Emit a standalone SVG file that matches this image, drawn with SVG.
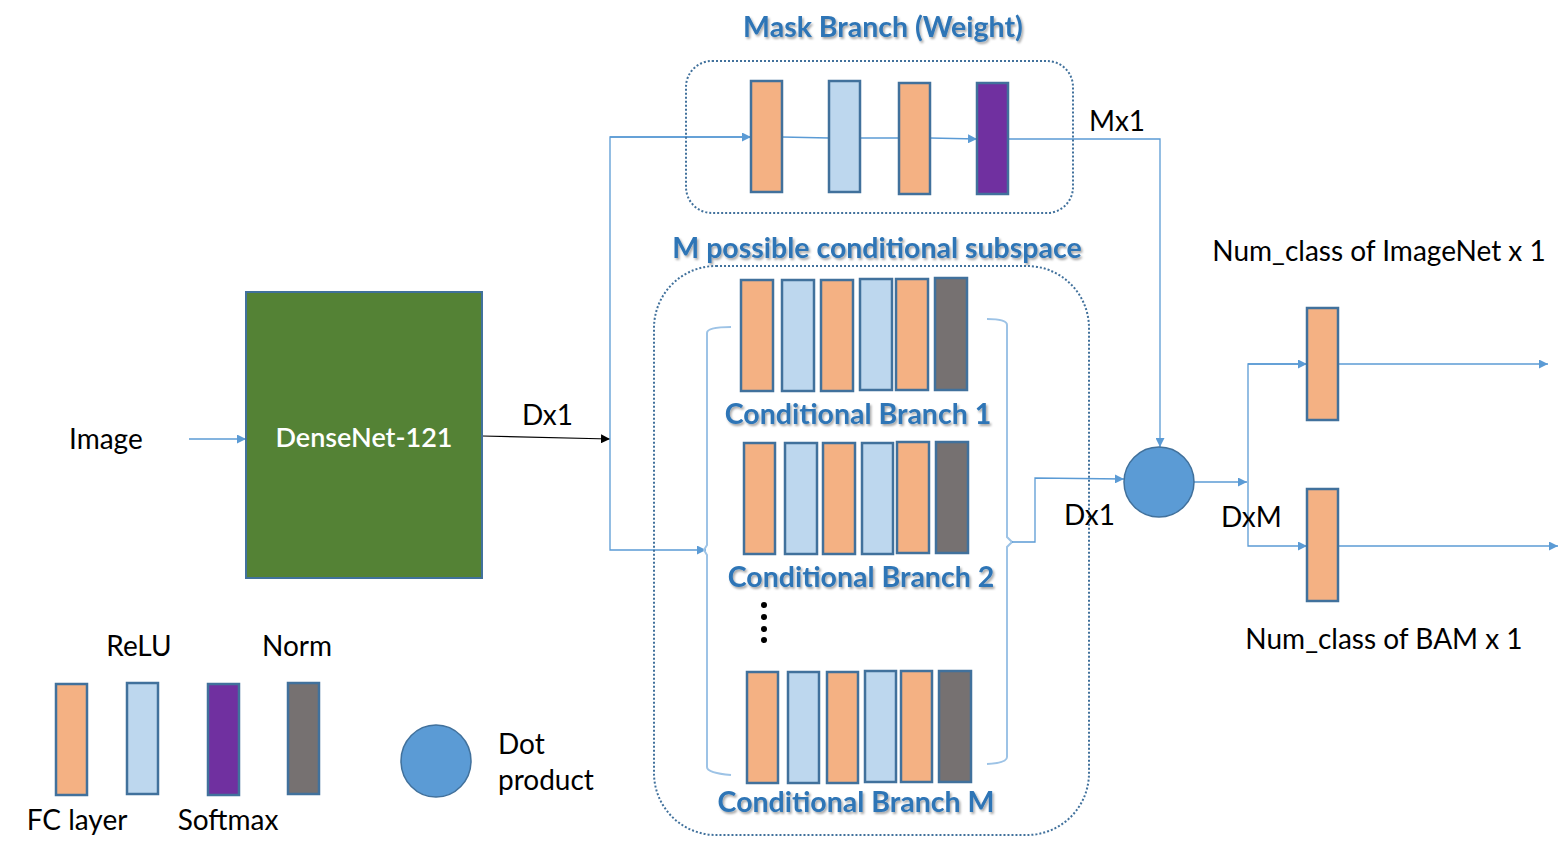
<svg xmlns="http://www.w3.org/2000/svg" width="1558" height="857" viewBox="0 0 1558 857">
<defs>
<style>
.fc{fill:#F4B183;stroke:#41719C;stroke-width:2.5}
.relu{fill:#BDD7EE;stroke:#41719C;stroke-width:2.5}
.soft{fill:#7030A0;stroke:#41719C;stroke-width:2.5}
.norm{fill:#767171;stroke:#41719C;stroke-width:2.5}
.dot{fill:#5B9BD5;stroke:#41719C;stroke-width:1.5}
.grp{fill:none;stroke:#41719C;stroke-width:2;stroke-dasharray:2 2}
.ln{fill:none;stroke:#5B9BD5;stroke-width:1.3}
.br{fill:none;stroke:#9DC3E6;stroke-width:2}
.t{font-family:Lato,"Liberation Sans",sans-serif;font-size:28px;fill:#000}
.h{font-family:Lato,"Liberation Sans",sans-serif;font-size:28.5px;font-weight:bold;fill:#2E75B6;text-anchor:middle;filter:url(#sh)}
</style>
<filter id="sh" x="-5%" y="-20%" width="110%" height="150%">
<feDropShadow dx="1.5" dy="2" stdDeviation="1" flood-color="#000" flood-opacity="0.35"/>
</filter>
<marker id="ab" viewBox="0 0 10 10" refX="10" refY="5" markerWidth="9" markerHeight="9" markerUnits="userSpaceOnUse" orient="auto"><path d="M0,0 L10,5 L0,10 z" fill="#5B9BD5"/></marker>
<marker id="ak" viewBox="0 0 10 10" refX="10" refY="5" markerWidth="9" markerHeight="9" markerUnits="userSpaceOnUse" orient="auto"><path d="M0,0 L10,5 L0,10 z" fill="#000"/></marker>
</defs>
<rect width="1558" height="857" fill="#fff"/>

<g id="connectors">
<line class="ln" x1="189" y1="439" x2="246" y2="439" marker-end="url(#ab)"/>
<path d="M482,436 L610,439" fill="none" stroke="#000" stroke-width="1.2" marker-end="url(#ak)"/>
<path class="ln" d="M751,137 L610,137 L610,550 L706,550" marker-end="url(#ab)"/>
<line class="ln" x1="610" y1="137" x2="751" y2="137" marker-end="url(#ab)"/>
<line class="ln" x1="782" y1="137" x2="829" y2="138"/>
<line class="ln" x1="860" y1="138" x2="899" y2="138"/>
<line class="ln" x1="930" y1="138" x2="977" y2="139" marker-end="url(#ab)"/>
<path class="ln" d="M1008,139 L1160,139 L1160,447" marker-end="url(#ab)"/>
<path class="br" d="M731,327 Q707,327 707,333 L707,545 L704,550 L707,555 L707,767 Q707,773 731,775"/>
<path class="br" d="M987,319 Q1007,319 1007,325 L1007,537 L1012,542 L1007,547 L1007,757 Q1007,763 987,764"/>
<path class="ln" d="M1012,542 L1035,542 L1035,478 L1124,479" marker-end="url(#ab)"/>
<line class="ln" x1="1194" y1="482" x2="1247" y2="482" marker-end="url(#ab)"/>
<path class="ln" d="M1307,364 L1248,364 L1248,546 L1307,546" marker-end="url(#ab)"/>
<line class="ln" x1="1248" y1="364" x2="1307" y2="364" marker-end="url(#ab)"/>
<line class="ln" x1="1338" y1="364" x2="1548" y2="364" marker-end="url(#ab)"/>
<line class="ln" x1="1338" y1="546" x2="1558" y2="546" marker-end="url(#ab)"/>
</g>

<g id="image-label"><text class="t" x="69" y="449">Image</text></g>

<g id="densenet">
<rect x="246" y="292" width="236" height="286" fill="#548235" stroke="#41719C" stroke-width="2"/>
<text x="364" y="447" font-family="Lato,'Liberation Sans',sans-serif" font-size="27" font-weight="600" fill="#fff" text-anchor="middle">DenseNet-121</text>
</g>
<g id="dx1-label"><text class="t" x="522" y="425">Dx1</text></g>

<g id="mask-branch">
<text class="h" x="883" y="37">Mask Branch (Weight)</text>
<rect class="grp" x="686" y="61" width="387" height="152" rx="26"/>
<rect class="fc" x="751" y="81" width="31" height="111"/>
<rect class="relu" x="829" y="81" width="31" height="111"/>
<rect class="fc" x="899" y="83" width="31" height="111"/>
<rect class="soft" x="977" y="83" width="31" height="111"/>
</g>
<g id="mx1-label"><text class="t" x="1089" y="131">Mx1</text></g>

<g id="conditional-subspace">
<text class="h" x="877" y="258">M possible conditional subspace</text>
<rect class="grp" x="654" y="266" width="435" height="569" rx="62"/>
</g>

<g id="branch-1">
<rect class="fc" x="741" y="280" width="32" height="111"/>
<rect class="relu" x="782" y="280" width="32" height="111"/>
<rect class="fc" x="821" y="280" width="32" height="111"/>
<rect class="relu" x="860" y="279" width="32" height="111"/>
<rect class="fc" x="896" y="279" width="32" height="111"/>
<rect class="norm" x="935" y="278" width="32" height="112"/>
<text class="h" x="858" y="424">Conditional Branch 1</text>
</g>

<g id="branch-2">
<rect class="fc" x="744" y="443" width="31" height="111"/>
<rect class="relu" x="785" y="443" width="32" height="111"/>
<rect class="fc" x="823" y="443" width="32" height="111"/>
<rect class="relu" x="862" y="443" width="31" height="111"/>
<rect class="fc" x="897" y="442" width="32" height="111"/>
<rect class="norm" x="936" y="442" width="32" height="111"/>
<text class="h" x="861" y="587">Conditional Branch 2</text>
</g>

<g id="ellipsis">
<circle cx="764" cy="605" r="3" fill="#000"/>
<circle cx="764" cy="617" r="3" fill="#000"/>
<circle cx="764" cy="629" r="3" fill="#000"/>
<circle cx="764" cy="640" r="3" fill="#000"/>
</g>

<g id="branch-m">
<rect class="fc" x="747" y="672" width="31" height="111"/>
<rect class="relu" x="788" y="672" width="31" height="111"/>
<rect class="fc" x="827" y="672" width="31" height="111"/>
<rect class="relu" x="865" y="671" width="31" height="111"/>
<rect class="fc" x="901" y="671" width="31" height="111"/>
<rect class="norm" x="939" y="671" width="32" height="111"/>
<text class="h" x="856" y="812">Conditional Branch M</text>
</g>

<g id="dx1-right-label"><text class="t" x="1064" y="525">Dx1</text></g>

<g id="dot-product"><circle class="dot" cx="1159" cy="482" r="35"/></g>
<g id="dxm-label"><text class="t" x="1221" y="527">DxM</text></g>

<g id="out-imagenet">
<rect class="fc" x="1307" y="308" width="31" height="112"/>
<text class="t" x="1379" y="261" text-anchor="middle">Num_class of ImageNet x 1</text>
</g>
<g id="out-bam">
<rect class="fc" x="1307" y="489" width="31" height="112"/>
<text class="t" x="1384" y="649" text-anchor="middle">Num_class of BAM x 1</text>
</g>

<g id="legend">
<rect class="fc" x="56" y="684" width="31" height="111"/>
<rect class="relu" x="127" y="683" width="31" height="111"/>
<rect class="soft" x="208" y="684" width="31" height="111"/>
<rect class="norm" x="288" y="683" width="31" height="111"/>
<text class="t" x="139" y="656" text-anchor="middle">ReLU</text>
<text class="t" x="297" y="656" text-anchor="middle">Norm</text>
<text class="t" x="77" y="830" text-anchor="middle">FC layer</text>
<text class="t" x="228" y="830" text-anchor="middle">Softmax</text>
<ellipse class="dot" cx="436" cy="761" rx="35" ry="36"/>
<text class="t" x="498" y="754">Dot</text>
<text class="t" x="498" y="790">product</text>
</g>
</svg>
